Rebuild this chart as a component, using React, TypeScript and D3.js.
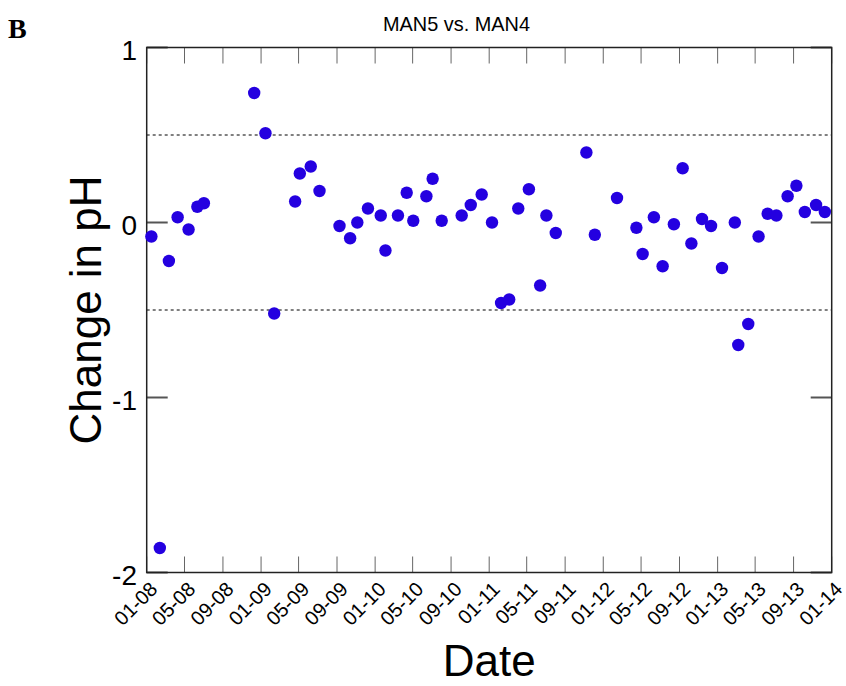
import React, { useEffect, useRef } from 'react';
import * as d3 from 'd3';

// sample dates and pH change (MAN5 minus MAN4)
const dates = [
  '2008-01-16', '2008-02-12', '2008-03-12', '2008-04-09', '2008-05-14', '2008-06-11', '2008-07-02',
  '2008-12-10', '2009-01-15', '2009-02-12', '2009-04-20', '2009-05-05', '2009-06-09', '2009-07-07',
  '2009-09-09', '2009-10-13', '2009-11-05', '2009-12-09', '2010-01-19', '2010-02-03', '2010-03-15',
  '2010-04-12', '2010-05-03', '2010-06-14', '2010-07-04', '2010-08-02', '2010-10-05', '2010-11-03',
  '2010-12-08', '2011-01-10', '2011-02-08', '2011-03-06', '2011-04-04', '2011-05-08', '2011-06-13',
  '2011-07-03', '2011-08-02', '2011-11-08', '2011-12-05', '2012-02-14', '2012-04-16', '2012-05-06',
  '2012-06-11', '2012-07-09', '2012-08-14', '2012-09-11', '2012-10-09', '2012-11-12', '2012-12-11',
  '2013-01-15', '2013-02-25', '2013-03-08', '2013-04-09', '2013-05-12', '2013-06-10', '2013-07-08',
  '2013-08-13', '2013-09-10', '2013-10-07', '2013-11-12', '2013-12-10',
];
const phChange = [
  -0.08, -1.86, -0.22, 0.03, -0.04, 0.09, 0.11,
  0.74, 0.51, -0.52, 0.12, 0.28, 0.32, 0.18,
  -0.02, -0.09, 0.0, 0.08, 0.04, -0.16, 0.04,
  0.17, 0.01, 0.15, 0.25, 0.01, 0.04, 0.1,
  0.16, 0.0, -0.46, -0.44, 0.08, 0.19, -0.36,
  0.04, -0.06, 0.4, -0.07, 0.14, -0.03, -0.18,
  0.03, -0.25, -0.01, 0.31, -0.12, 0.02, -0.02,
  -0.26, 0.0, -0.7, -0.58, -0.08, 0.05, 0.04,
  0.15, 0.21, 0.06, 0.1, 0.06,
];
const yTicks = [-2, -1, 0, 1];
const refLines = [0.5, -0.5];

const W = 846, H = 686;
const left = 146.7, right = 831.7, top = 47.5, bottom = 572.5;
const font = 'Liberation Sans, Arial, Helvetica, sans-serif';

export default function App() {
  const ref = useRef<SVGSVGElement>(null);

  useEffect(() => {
    const svg = d3.select(ref.current);
    svg.selectAll('*').remove();
    const parse = d3.timeParse('%Y-%m-%d');

    const x = d3.scaleTime()
      .domain([new Date(2008, 0, 1), new Date(2014, 0, 1)])
      .range([left, right]);
    const y = d3.scaleLinear().domain([-2, 1]).range([bottom, top]);
    const xTicks = x.ticks(d3.timeMonth.every(4)!);
    const fmt = d3.timeFormat('%m-%y');

    // x ticks, inside, top and bottom
    const g = svg.append('g');
    xTicks.forEach(t => {
      g.append('line').attr('x1', x(t)).attr('x2', x(t)).attr('y1', bottom).attr('y2', bottom - 16)
        .attr('stroke', '#666').attr('stroke-width', 1);
      g.append('line').attr('x1', x(t)).attr('x2', x(t)).attr('y1', top).attr('y2', top + 16)
        .attr('stroke', '#666').attr('stroke-width', 1);
      g.append('text')
        .attr('transform', `translate(${x(t) + 12},${bottom + 18}) rotate(-45)`)
        .attr('text-anchor', 'end')
        .style('font-family', font).style('font-size', '20px')
        .text(fmt(t));
    });

    // y ticks both sides
    yTicks.forEach(v => {
      g.append('line').attr('x1', left).attr('x2', left + 21).attr('y1', y(v)).attr('y2', y(v))
        .attr('stroke', '#555').attr('stroke-width', 2);
      g.append('line').attr('x1', right - 21).attr('x2', right).attr('y1', y(v)).attr('y2', y(v))
        .attr('stroke', '#555').attr('stroke-width', 2);
      g.append('text')
        .attr('x', 137).attr('y', y(v) + 12)
        .attr('text-anchor', 'end')
        .style('font-family', font).style('font-size', '28px')
        .text(v);
    });

    // dashed +-0.5 lines
    svg.append('g').selectAll('line').data(refLines).join('line')
      .attr('x1', left).attr('x2', right)
      .attr('y1', d => y(d)).attr('y2', d => y(d))
      .attr('stroke', '#000').attr('stroke-width', 1).attr('stroke-dasharray', '3,3');

    // frame
    svg.append('rect')
      .attr('x', left).attr('y', top).attr('width', right - left).attr('height', bottom - top)
      .attr('fill', 'none').attr('stroke', '#222').attr('stroke-width', 1.5);

    // points
    svg.append('g').attr('fill', '#2400e0')
      .selectAll('circle')
      .data(dates.map((d, i) => ({ date: parse(d)!, v: phChange[i] })))
      .join('circle')
      .attr('cx', d => x(d.date))
      .attr('cy', d => y(d.v))
      .attr('r', 6.2);

    // labels
    svg.append('text')
      .attr('x', 456.5).attr('y', 31).attr('text-anchor', 'middle')
      .attr('textLength', 147).attr('lengthAdjust', 'spacingAndGlyphs')
      .style('font-family', font).style('font-size', '21px')
      .text('MAN5 vs. MAN4');
    svg.append('text')
      .attr('x', (left + right) / 2).attr('y', 676).attr('text-anchor', 'middle')
      .style('font-family', font).style('font-size', '44px')
      .text('Date');
    svg.append('text')
      .attr('transform', `translate(101,${(top + bottom) / 2}) rotate(-90)`)
      .attr('text-anchor', 'middle')
      .style('font-family', font).style('font-size', '44px')
      .text('Change in pH');
    svg.append('text')
      .attr('x', 8).attr('y', 38)
      .style('font-family', 'Liberation Serif, Times New Roman, serif')
      .style('font-size', '28px').style('font-weight', 'bold')
      .text('B');
  }, []);

  return (
    <svg ref={ref} width={W} height={H}
      style={{ position: 'absolute', left: 0, top: 0, background: '#fff' }} />
  );
}
